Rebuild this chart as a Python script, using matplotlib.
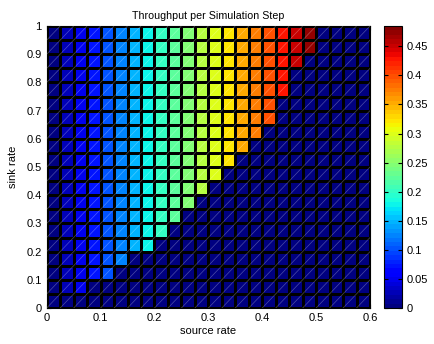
import numpy as np
import matplotlib.pyplot as plt
from matplotlib.collections import LineCollection
from matplotlib.ticker import FuncFormatter

plt.rcParams['font.family'] = ['Liberation Sans', 'DejaVu Sans']
plt.rcParams['font.size'] = 8

## grid edges of the sweep
source_rate = [0.0, 0.025, 0.05, 0.075, 0.1, 0.125, 0.15, 0.175, 0.2, 0.225, 0.25, 0.275,
               0.3, 0.325, 0.35, 0.375, 0.4, 0.425, 0.45, 0.475, 0.5, 0.525, 0.55, 0.575, 0.6]
sink_rate = [0.0, 0.05, 0.1, 0.15, 0.2, 0.25, 0.3, 0.35, 0.4, 0.45, 0.5,
             0.55, 0.6, 0.65, 0.7, 0.75, 0.8, 0.85, 0.9, 0.95, 1.0]

## throughput read per source column (when the system is stable)
throughput = [0.0, 0.025, 0.05, 0.075, 0.1, 0.125, 0.15, 0.175, 0.2, 0.225, 0.25, 0.275,
              0.3, 0.325, 0.35, 0.375, 0.4, 0.425, 0.45, 0.475, 0.5, 0.525, 0.55, 0.575]

## first source rate that drops to zero throughput, per sink row (bottom -> top)
cutoff = [0.025, 0.075, 0.125, 0.15, 0.2, 0.225, 0.25, 0.275, 0.3, 0.325,
          0.35, 0.375, 0.4, 0.425, 0.425, 0.45, 0.45, 0.475, 0.5, 0.5]

Z = np.array([[t if s < c - 1e-9 else 0.0 for s, t in zip(source_rate[:-1], throughput)]
              for c in cutoff])

W, H = 434, 344
fig = plt.figure(figsize=(W/100, H/100), dpi=100)
ax = fig.add_axes([46.7/W, (H-308)/H, (370-46.7)/W, (308-26)/H])

cmap = plt.get_cmap('jet', 64)
mesh = ax.pcolormesh(source_rate, sink_rate, Z, cmap=cmap, vmin=0, vmax=0.485,
                     edgecolors='k', linewidth=0.9, zorder=1)

## faint triangle seams (lower left -> upper right in every cell)
segs = []
for j in range(len(sink_rate)-1):
    for i in range(len(source_rate)-1):
        segs.append([(source_rate[i], sink_rate[j]), (source_rate[i+1], sink_rate[j+1])])
ax.add_collection(LineCollection(segs, colors='white', linewidths=0.5, alpha=0.3, zorder=3))

ax.set_xlim(0, 0.6)
ax.set_ylim(0, 1)
ax.set_xticks(np.arange(0, 0.61, 0.1))
ax.set_yticks(np.arange(0, 1.01, 0.1))
fmt = FuncFormatter(lambda v, p: '%g' % round(v, 3))
ax.xaxis.set_major_formatter(fmt)
ax.yaxis.set_major_formatter(fmt)
ax.tick_params(direction='in', length=3, top=True, right=True)
ax.set_title('Throughput per Simulation Step', fontsize=7.7, pad=5)
ax.set_xlabel('source rate', labelpad=2.5)
ax.set_ylabel('sink rate', labelpad=6)

cax = fig.add_axes([384/W, (H-308)/H, 18/W, (308-26)/H])
cb = fig.colorbar(mesh, cax=cax, ticks=np.arange(0, 0.46, 0.05))
cb.ax.yaxis.set_major_formatter(fmt)
cb.ax.tick_params(direction='in', length=3, left=True, right=True)
cb.outline.set_linewidth(0.8)

fig.savefig('out.png', dpi=100)
